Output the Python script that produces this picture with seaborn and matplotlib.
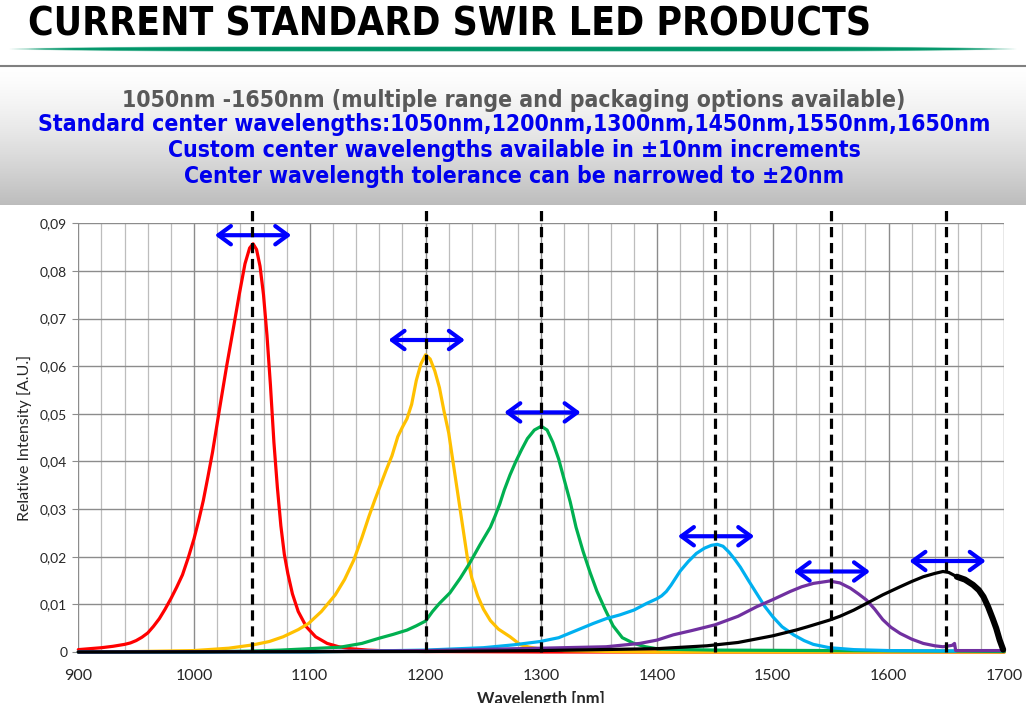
import numpy as np
import pandas as pd
import matplotlib
matplotlib.use("Agg")
import matplotlib.pyplot as plt
from matplotlib.lines import Line2D
from matplotlib.ticker import FuncFormatter, MultipleLocator
import seaborn as sns

# =====================
# DATA
# =====================
red_nm = [900, 920, 930, 940, 945, 950, 955, 960, 965, 970, 975, 980, 985, 990, 995, 1000, 1004,
          1008, 1012, 1016, 1022, 1028, 1034, 1039, 1044, 1048, 1051, 1054, 1057, 1060, 1063, 1066,
          1069, 1072, 1075, 1078, 1081, 1085, 1090, 1097, 1105, 1115, 1125, 1135, 1150, 1170, 1200,
          1300, 1700]
red_val = [0.0005, 0.0009, 0.0012, 0.0016, 0.0019, 0.0024, 0.0031, 0.0040, 0.0054, 0.0070, 0.0090,
           0.0112, 0.0136, 0.0162, 0.0198, 0.0238, 0.0276, 0.0318, 0.0368, 0.0420, 0.0510, 0.0598,
           0.0680, 0.0750, 0.0815, 0.0848, 0.0857, 0.0845, 0.0810, 0.0750, 0.0665, 0.0560, 0.0440,
           0.0345, 0.0265, 0.0205, 0.0165, 0.0122, 0.0085, 0.0053, 0.0032, 0.0018, 0.0011, 0.0007,
           0.0004, 0.0002, 0.0001, 0.0, 0.0]

yellow_nm = [900, 950, 1000, 1030, 1051, 1065, 1077, 1090, 1099, 1110, 1122, 1130, 1138, 1145, 1151,
             1156, 1161, 1166, 1171, 1176, 1180, 1184, 1188, 1192, 1196, 1200, 1204, 1208, 1212,
             1216, 1220, 1224, 1228, 1232, 1236, 1240, 1245, 1250, 1256, 1263, 1273, 1282, 1290,
             1300, 1320, 1360, 1400, 1700]
yellow_val = [0.0, 0.0001, 0.0003, 0.0008, 0.0015, 0.0022, 0.0032, 0.0047, 0.0060, 0.0085, 0.0120,
              0.0152, 0.0193, 0.0240, 0.0284, 0.0318, 0.0350, 0.0382, 0.0412, 0.0452, 0.0472, 0.0490,
              0.0520, 0.0570, 0.0605, 0.0624, 0.0615, 0.0590, 0.0555, 0.0505, 0.0460, 0.0395, 0.0330,
              0.0265, 0.0200, 0.0155, 0.0118, 0.0090, 0.0066, 0.0048, 0.0032, 0.0015, 0.0010, 0.0006,
              0.0003, 0.0001, 0.0, 0.0]

green_nm = [900, 1000, 1050, 1075, 1100, 1126, 1145, 1160, 1172, 1184, 1192, 1200, 1206, 1212, 1221,
            1230, 1238, 1247, 1256, 1260, 1264, 1268, 1273, 1278, 1283, 1288, 1294, 1300, 1305, 1310,
            1315, 1320, 1325, 1330, 1336, 1342, 1348, 1355, 1362, 1370, 1380, 1390, 1402, 1450, 1550,
            1650, 1700]
green_val = [0.0, 0.0, 0.0002, 0.0004, 0.0007, 0.0010, 0.0018, 0.0029, 0.0037, 0.0046, 0.0055, 0.0065,
             0.0085, 0.0102, 0.0124, 0.0155, 0.0186, 0.0225, 0.0262, 0.0285, 0.0310, 0.0340, 0.0372,
             0.0400, 0.0425, 0.0448, 0.0466, 0.0474, 0.0466, 0.0440, 0.0405, 0.0360, 0.0315, 0.0262,
             0.0212, 0.0168, 0.0128, 0.0090, 0.0055, 0.0030, 0.0018, 0.0011, 0.0006, 0.0004, 0.0003,
             0.0002, 0.0001]

cyan_nm = [900, 1100, 1150, 1200, 1250, 1276, 1299, 1315, 1333, 1345, 1356, 1368, 1380, 1391, 1400,
           1404, 1408, 1412, 1416, 1420, 1427, 1434, 1441, 1447, 1452, 1457, 1462, 1467, 1472, 1479,
           1486, 1493, 1500, 1508, 1518, 1527, 1535, 1549, 1570, 1600, 1658]
cyan_val = [0.0, 0.0, 0.0002, 0.0004, 0.0009, 0.0015, 0.0022, 0.0030, 0.0048, 0.0060, 0.0070, 0.0078,
            0.0088, 0.0102, 0.0112, 0.0118, 0.0127, 0.0140, 0.0155, 0.0170, 0.0190, 0.0207, 0.0218,
            0.0224, 0.0226, 0.0222, 0.0210, 0.0195, 0.0178, 0.0150, 0.0123, 0.0096, 0.0074, 0.0053,
            0.0036, 0.0024, 0.0016, 0.0009, 0.0005, 0.0003, 0.0002]

purple_nm = [900, 1100, 1200, 1300, 1356, 1385, 1400, 1414, 1430, 1450, 1470, 1486, 1500, 1515, 1525,
             1535, 1549, 1558, 1567, 1574, 1581, 1588, 1595, 1602, 1610, 1620, 1630, 1640, 1647, 1655,
             1657, 1658, 1700]
purple_val = [0.0, 0.0001, 0.0003, 0.0008, 0.0011, 0.0018, 0.0025, 0.0036, 0.0045, 0.0057, 0.0075,
              0.0095, 0.0110, 0.0127, 0.0137, 0.0144, 0.0149, 0.0145, 0.0134, 0.0122, 0.0109, 0.0090,
              0.0068, 0.0052, 0.0039, 0.0027, 0.0018, 0.0013, 0.0011, 0.0014, 0.0018, 0.0003, 0.0003]

black_nm = [900, 1200, 1300, 1400, 1443, 1470, 1500, 1520, 1530, 1549, 1558, 1570, 1581, 1595, 1610,
            1620, 1630, 1640, 1647, 1652, 1659, 1666, 1673, 1678, 1682, 1686, 1690, 1693, 1696, 1699]
black_val = [0.0, 0.0001, 0.0003, 0.0007, 0.0013, 0.0020, 0.0034, 0.0046, 0.0053, 0.0067, 0.0075,
             0.0088, 0.0102, 0.0120, 0.0137, 0.0148, 0.0158, 0.0165, 0.0169, 0.0167, 0.0158, 0.0152,
             0.0141, 0.0130, 0.0116, 0.0095, 0.0070, 0.0050, 0.0025, 0.0005]

centers = [1050, 1200, 1300, 1450, 1550, 1650]
arrow_y = [0.0875, 0.0655, 0.0503, 0.0243, 0.0169, 0.0191]

led_names = ["1050", "1200", "1300", "1450", "1550", "1650"]
led_colors = ["#FF0000", "#FFC000", "#00B050", "#00B0F0", "#7030A0", "#000000"]

title = "CURRENT STANDARD SWIR LED PRODUCTS"
header_lines = [
    ("1050nm -1650nm (multiple range and packaging options available)", "#595959"),
    ("Standard center wavelengths:1050nm,1200nm,1300nm,1450nm,1550nm,1650nm", "#0000EE"),
    ("Custom center wavelengths available in \u00b110nm increments", "#0000EE"),
    ("Center wavelength tolerance can be narrowed to \u00b120nm", "#0000EE"),
]

# =====================
# LONG TABLE FOR SEABORN
# =====================
frames = []
for name, xs, ys in zip(led_names,
                        [red_nm, yellow_nm, green_nm, cyan_nm, purple_nm, black_nm],
                        [red_val, yellow_val, green_val, cyan_val, purple_val, black_val]):
    frames.append(pd.DataFrame({"nm": xs, "intensity": ys, "led": name}))
df = pd.concat(frames, ignore_index=True)

# =====================
# FIGURE
# =====================
sns.set_style("white")
plt.rcParams["font.family"] = ["DejaVu Sans"]

fig = plt.figure(figsize=(10.26, 7.03), dpi=100)
W, H = 1026, 703

def fy(py):
    return (H - py) / H

# header band with vertical grey gradient
band = fig.add_axes([0, fy(205), 1, fy(66) - fy(205)], zorder=0)
g = np.linspace(0, 1, 200) ** 1.4
shade = 1.0 - 0.26 * g
band.imshow(np.dstack([shade, shade, shade]).reshape(200, 1, 3),
            aspect="auto", extent=(0, 1, 0, 1))
band.axis("off")

fig.add_artist(Line2D([0, 1], [fy(66), fy(66)], color="#808080", lw=1.5))

# green tapered rule below the title
rule = fig.add_axes([0, fy(52), 1, fy(46) - fy(52)], zorder=1)
xx = np.linspace(-1, 1, 600)
yy = np.linspace(-1, 1, 12)[:, None]
thick = np.clip(1 - np.abs(xx) ** 6, 0.05, 1)[None, :]
alpha = np.clip((thick - np.abs(yy)) * 3, 0, 1)
rgba = np.zeros((12, 600, 4))
rgba[..., 1] = 150 / 255
rgba[..., 2] = 105 / 255
rgba[..., 3] = alpha
rule.imshow(rgba, aspect="auto", extent=(0, 1, 0, 1))
rule.axis("off")

fig.text(28 / W, fy(24), title, fontsize=28, fontweight="bold", va="center", ha="left",
         color="black", fontstretch="condensed")

for (txt, col), py in zip(header_lines, [100, 125, 150, 176]):
    fig.text(514 / W, fy(py), txt, fontsize=16.5, fontweight="bold", color=col,
             ha="center", va="center", fontstretch="condensed")

# =====================
# PLOT AREA
# =====================
ax = fig.add_axes([78.3 / W, fy(652), (1004.3 - 78.3) / W, (652 - 223.3) / H], zorder=2)
ax.patch.set_alpha(0)

sns.lineplot(data=df, x="nm", y="intensity", hue="led", palette=led_colors,
             hue_order=led_names, estimator=None, sort=False, legend=False,
             lw=2.3, ax=ax)
for line in ax.lines:
    line.set_clip_on(False)
    line.set_solid_joinstyle("round")

# noisy, thicker tail of the 1650 nm trace
tail = df[(df["led"] == "1650") & (df["nm"] >= 1655)]
ax.plot(tail["nm"], tail["intensity"], color="black", lw=4.4, zorder=3, clip_on=False)

ax.set_xlim(900, 1700)
ax.set_ylim(0, 0.09)
ax.xaxis.set_major_locator(MultipleLocator(100))
ax.xaxis.set_minor_locator(MultipleLocator(20))
ax.yaxis.set_major_locator(MultipleLocator(0.01))
ax.yaxis.set_major_formatter(FuncFormatter(lambda v, p: "0" if abs(v) < 1e-9 else f"{v:.2f}".replace(".", ",")))
ax.grid(which="major", axis="both", color="#8c8c8c", lw=1.0)
ax.grid(which="minor", axis="x", color="#bdbdbd", lw=0.9)
ax.set_axisbelow(True)
for s in ax.spines.values():
    s.set_visible(False)
ax.tick_params(axis="y", which="major", length=4, color="#8c8c8c", left=True, labelsize=10,
               labelfontfamily="Lato", pad=4)
ax.tick_params(axis="x", which="both", length=0, labelsize=11.5, labelfontfamily="Lato", pad=12)

ax.set_xlabel("")
ax.set_ylabel("Relative Intensity [A.U.]", fontsize=11.5, fontfamily="Lato", labelpad=6)
fig.text(541 / W, fy(691), "Wavelength [nm]", fontsize=12, fontweight="bold",
         fontfamily="Lato", ha="center", va="top")

# centre wavelength markers and tolerance arrows
for c, h in zip(centers, arrow_y):
    ax.axvline(c, ymin=0, ymax=1.043, color="black", lw=2.3, ls=(0, (3.2, 1.8)),
               clip_on=False, zorder=5)
    ax.annotate("", xy=(c + 34, h), xytext=(c - 32, h),
                arrowprops=dict(arrowstyle="<->,head_length=0.45,head_width=0.33",
                                color="#0000FF", lw=3, shrinkA=0, shrinkB=0,
                                mutation_scale=20), zorder=4)

plt.savefig("out.png", dpi=100)
plt.close()
